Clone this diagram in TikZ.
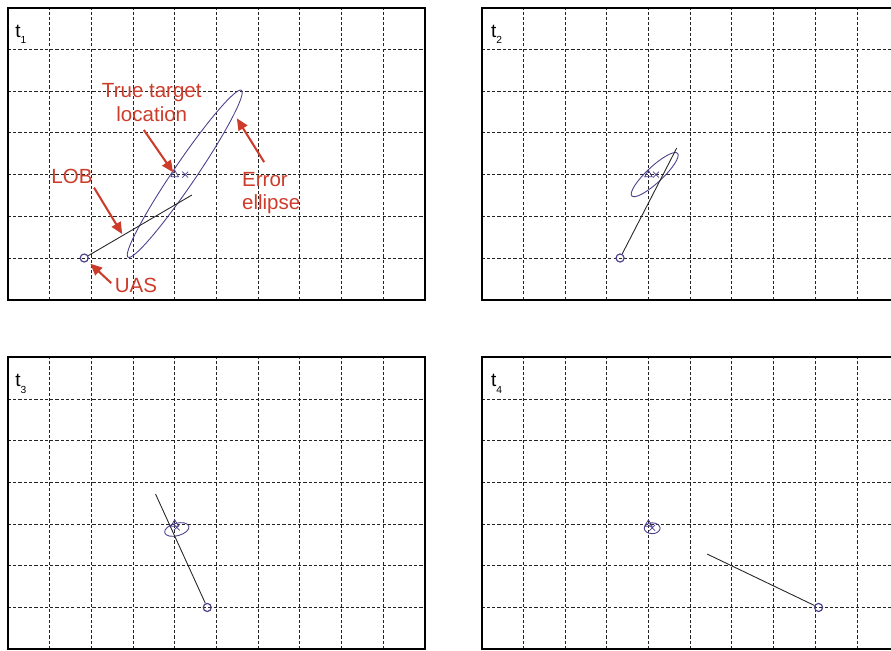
\documentclass[tikz,border=0pt]{standalone}
\usepackage{fontspec}
\setmainfont{Liberation Sans}
\usetikzlibrary{arrows.meta, calc, shapes.geometric, shapes.misc}
\definecolor{annotred}{RGB}{205, 60, 42}
\definecolor{ellipseblue}{RGB}{78, 62, 142}
\definecolor{gridgray}{RGB}{35, 35, 35}

\tikzset{
  gridline/.style={gridgray, line width=0.6pt, dash pattern=on 2.2pt off 1.4pt},
  panelframe/.style={black, line width=1.4pt},
  lob/.style={black!85, line width=0.6pt},
  errell/.style={ellipseblue, line width=0.6pt},
  uasmark/.style={circle, draw=ellipseblue, line width=0.8pt, minimum size=5.5pt, inner sep=0pt},
  tgtmark/.style={regular polygon, regular polygon sides=3, draw=ellipseblue, line width=0.5pt, minimum size=6pt, inner sep=0pt},
  estmark/.style={cross out, draw=ellipseblue, line width=0.5pt, minimum size=3.5pt, inner sep=0pt},
  callout/.style={annotred, font=\fontsize{14}{16}\selectfont, inner sep=0pt},
  annot/.style={annotred, line width=1.4pt, -{Triangle[length=8pt, width=7pt]}},
  tlabel/.style={font=\fontsize{13}{13}\selectfont, anchor=base west, inner sep=0pt}
}

\newcommand{\tstamp}[1]{t\raisebox{-4.6pt}{\fontsize{7}{7}\selectfont #1}}

\begin{document}
\begin{tikzpicture}
  \useasboundingbox (0,0) rectangle (21.367,15.588);
  \clip (0,0) rectangle (21.367,15.588);

  % grids and frames
  \foreach \px/\py in {0.19/8.4, 11.55/8.4, 0.19/0.02, 11.55/0.02} {
    \begin{scope}[shift={(\px,\py)}]
      \foreach \i in {1,...,9} \draw[gridline] (\i,0) -- (\i,7);
      \foreach \j in {1,...,6} \draw[gridline] (0,\j) -- (10,\j);
      \draw[panelframe] (0,0) rectangle (10,7);
    \end{scope}
  }

  % t1
  \begin{scope}[shift={(0.19,8.4)}]
    \node[tlabel] (lbl1) at (0.17,6.3) {\tstamp{1}};
    \draw[errell, shift={(4.24,3.02)}, rotate=55.8] (0,0) ellipse (2.42 and 0.27);
    \node[uasmark] (uas1) at (1.83,1) {};
    \coordinate (lobend1) at (4.41,2.51);
    \draw[lob] (uas1) -- (lobend1);
    \node[tgtmark] (tgt1) at (4,3) {};
    \node[estmark] (est1) at (4.25,3) {};

    \node[callout, align=center, anchor=north] (truelbl) at (3.45,5.19) {True target\\location};
    \node[callout, align=left, anchor=north west] (errlbl) at (5.61,3.06) {Error\\ellipse};
    \node[callout] (loblbl) at (1.535,2.95) {LOB};
    \node[callout] (uaslbl) at (3.07,0.34) {UAS};
    \coordinate (errpt) at (5.49,4.35);
    \coordinate (lobpt) at ($(uas1)!0.36!(lobend1)$);

    \draw[annot] ($(truelbl.south)+(-0.19,-0.2)$) -- (tgt1);
    \draw[annot] ($(errlbl.north)+(-0.17,0.24)$) -- (errpt);
    \draw[annot, shorten >=1pt] ($(loblbl.south east)+(0.03,-0.08)$) -- (lobpt);
    \draw[annot, shorten >=2.5pt] ($(uaslbl.west)+(-0.08,0.06)$) -- (uas1);
  \end{scope}

  % t2
  \begin{scope}[shift={(11.55,8.4)}]
    \node[tlabel] (lbl2) at (0.22,6.3) {\tstamp{2}};
    \draw[errell, shift={(4.15,3.0)}, rotate=43] (0,0) ellipse (0.75 and 0.19);
    \node[uasmark] (uas2) at (3.32,1) {};
    \coordinate (lobend2) at (4.68,3.64);
    \draw[lob] (uas2) -- (lobend2);
    \node[tgtmark] (tgt2) at (4,3) {};
    \node[estmark] (est2) at (4.18,3) {};
  \end{scope}

  % t3
  \begin{scope}[shift={(0.19,0.02)}]
    \node[tlabel] (lbl3) at (0.17,6.3) {\tstamp{3}};
    \draw[errell, shift={(4.05,2.87)}, rotate=15] (0,0) ellipse (0.3 and 0.15);
    \node[uasmark] (uas3) at (4.78,1) {};
    \coordinate (lobend3) at (3.54,3.72);
    \draw[lob] (uas3) -- (lobend3);
    \node[tgtmark] (tgt3) at (4,3) {};
    \node[estmark] (est3) at (4.05,2.92) {};
  \end{scope}

  % t4
  \begin{scope}[shift={(11.55,0.02)}]
    \node[tlabel] (lbl4) at (0.22,6.3) {\tstamp{4}};
    \draw[errell, shift={(4.09,2.9)}] (0,0) ellipse (0.19 and 0.13);
    \node[uasmark] (uas4) at (8.08,1) {};
    \coordinate (lobend4) at (5.41,2.28);
    \draw[lob] (uas4) -- (lobend4);
    \node[tgtmark] (tgt4) at (4,3) {};
    \node[estmark] (est4) at (4.09,2.91) {};
  \end{scope}
\end{tikzpicture}
\end{document}
